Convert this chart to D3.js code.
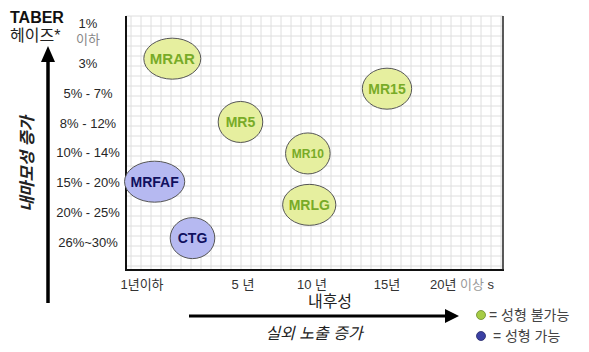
<!DOCTYPE html>
<html>
<head>
<meta charset="utf-8">
<script src="https://cdn.jsdelivr.net/npm/d3@7"></script>
<style>
  body { margin: 0; background: #fff; }
  text { font-family: "Liberation Sans", "Noto Sans CJK KR", Arial, sans-serif; }
</style>
</head>
<body>
<div id="chart"></div>
<script>
// tick labels
const yTickLabels = ["1%|이하", "3%", "5% - 7%", "8% - 12%", "10% - 14%", "15% - 20%", "20% - 25%", "26%~30%"];
const xTickYears = [1, 5, 10, 15, 20];
const xTickLabels = ["1년이하", "5 년", "10 년", "15년", "20년 이상 s"];

// bubbles: x in years, y in haze-category index, group 0 = 성형 불가능, 1 = 성형 가능
const names = ["MRAR", "MR5", "MR15", "MR10", "MRLG", "MRFAF", "CTG"];
const years = [2.2, 4.9, 15.0, 9.7, 9.8, 1.5, 3.0];
const hazeIdx = [0.83, 2.96, 1.84, 4.02, 5.75, 4.97, 6.87];
const groups = [0, 0, 0, 0, 0, 1, 1];

const legendLabels = ["= 성형 불가능", " = 성형 가능"];

const W = 589, H = 352;
const plot = { left: 126, top: 16, right: 503, bottom: 270 };

const svg = d3.select("#chart").append("svg")
    .attr("width", W)
    .attr("height", H);

// scales
const x = d3.scaleLinear().domain(xTickYears).range([142, 243, 312, 387, 462]);
const y = d3.scaleLinear().domain([0, yTickLabels.length - 1]).range([34, 242]);

const fills = ["#e6ef9f", "#b6b9f1"];
const textCols = ["#78ab28", "#10105e"];

// grid
const grid = svg.append("g");
for (let gx = plot.left + 5; gx < plot.right; gx += 10) {
    grid.append("line")
        .attr("x1", gx).attr("x2", gx)
        .attr("y1", plot.top).attr("y2", plot.bottom)
        .attr("stroke", "#dedede").attr("stroke-width", 1);
}
for (let gy = plot.top; gy < plot.bottom; gy += 10) {
    grid.append("line")
        .attr("x1", plot.left).attr("x2", plot.right)
        .attr("y1", gy).attr("y2", gy)
        .attr("stroke", "#dedede").attr("stroke-width", 1);
}

// frame
svg.append("line").attr("x1", plot.left).attr("x2", plot.left)
    .attr("y1", plot.top).attr("y2", plot.bottom + 1)
    .attr("stroke", "#111").attr("stroke-width", 2);
svg.append("line").attr("x1", plot.left).attr("x2", plot.right + 1)
    .attr("y1", plot.bottom).attr("y2", plot.bottom)
    .attr("stroke", "#111").attr("stroke-width", 2);
svg.append("line").attr("x1", plot.right).attr("x2", plot.right)
    .attr("y1", plot.top).attr("y2", plot.bottom)
    .attr("stroke", "#222").attr("stroke-width", 1.5);

// y tick labels
yTickLabels.forEach((lab, i) => {
    let parts = lab.split("|");
    let t = svg.append("text")
        .attr("x", 88)
        .attr("text-anchor", "middle")
        .attr("font-size", 13)
        .attr("fill", "#262626");
    if (parts.length == 2) {
        t.attr("y", y(i) - 6);
        t.append("tspan").attr("x", 88).text(parts[0]);
        t.append("tspan").attr("x", 88).attr("dy", 16).attr("fill", "#888").text(parts[1]);
    } else {
        t.attr("y", y(i) + 4.5).text(lab);
    }
});

// x tick labels
xTickYears.forEach((yr, i) => {
    let t = svg.append("text")
        .attr("x", x(yr))
        .attr("y", 289)
        .attr("text-anchor", "middle")
        .attr("font-size", 13)
        .attr("fill", "#333");
    if (i == xTickYears.length - 1) {
        t.append("tspan").text("20년 ");
        t.append("tspan").attr("fill", "#999").text("이상");
        t.append("tspan").text(" s");
    } else {
        t.text(xTickLabels[i]);
    }
});

// bubbles
const bubbles = svg.append("g");
names.forEach((nm, i) => {
    let g = bubbles.append("g")
        .attr("transform", "translate(" + x(years[i]) + "," + y(hazeIdx[i]) + ")");
    let ell = g.append("ellipse")
        .attr("fill", fills[groups[i]])
        .attr("stroke", "#555")
        .attr("stroke-width", 1);
    let label = g.append("text")
        .attr("text-anchor", "middle")
        .attr("y", nm == "MR10" ? 4.5 : 5)
        .attr("font-size", nm == "MR10" ? 12 : (nm == "MRAR" ? 15 : 14))
        .attr("font-weight", "bold")
        .attr("fill", textCols[groups[i]])
        .text(nm);
    let w = label.node().getComputedTextLength();
    ell.attr("rx", Math.max(22.3, w / 2 + 6)).attr("ry", 20.5);
});

// TABER title
svg.append("text").attr("x", 10).attr("y", 23)
    .attr("font-size", 16).attr("font-weight", "bold").attr("fill", "#111")
    .text("TABER");
svg.append("text").attr("x", 10).attr("y", 41)
    .attr("font-size", 16).attr("fill", "#222")
    .text("헤이즈*");

// vertical arrow
svg.append("line").attr("x1", 48).attr("x2", 48)
    .attr("y1", 58).attr("y2", 303)
    .attr("stroke", "#000").attr("stroke-width", 3.5);
svg.append("path").attr("d", "M48,46 L41,62 L55,62 Z").attr("fill", "#000");

svg.append("text")
    .attr("transform", "translate(33,164) rotate(-90)")
    .attr("text-anchor", "middle")
    .attr("font-size", 16.5).attr("font-style", "italic").attr("font-weight", "bold")
    .attr("fill", "#222")
    .text("내마모성 증가");

// horizontal arrow
svg.append("line").attr("x1", 189).attr("x2", 448)
    .attr("y1", 316).attr("y2", 316)
    .attr("stroke", "#000").attr("stroke-width", 3.2);
svg.append("path").attr("d", "M459,316 L445,309 L445,323 Z").attr("fill", "#000");

svg.append("text").attr("x", 330).attr("y", 307)
    .attr("text-anchor", "middle")
    .attr("font-size", 16).attr("fill", "#222")
    .text("내후성");
svg.append("text").attr("x", 314).attr("y", 339)
    .attr("text-anchor", "middle")
    .attr("font-size", 16).attr("font-style", "italic").attr("fill", "#222")
    .text("실외 노출 증가");

// legend
const legendDot = ["#a6cc45", "#3b40a3"];
const legendDotStroke = ["#6a8a2a", "#25286a"];
legendLabels.forEach((lab, i) => {
    let ly = 315 + i * 21;
    svg.append("circle").attr("cx", 481).attr("cy", ly).attr("r", 4.5)
        .attr("fill", legendDot[i]).attr("stroke", legendDotStroke[i]).attr("stroke-width", 0.8);
    svg.append("text").attr("x", 489).attr("y", ly + 5)
        .attr("font-size", 14).attr("fill", "#444")
        .attr("xml:space", "preserve")
        .style("white-space", "pre")
        .text(lab);
});
</script>
</body>
</html>
